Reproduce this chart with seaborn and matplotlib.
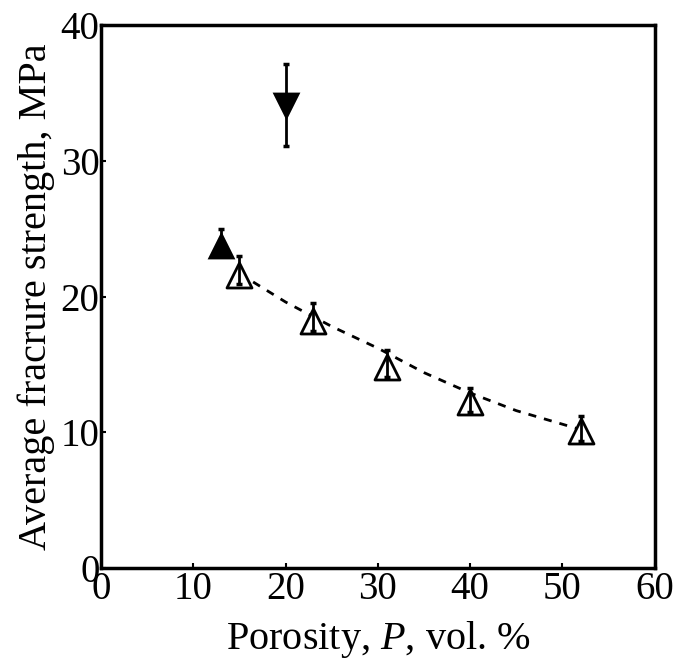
import matplotlib
matplotlib.use("Agg")
import matplotlib.pyplot as plt
import seaborn as sns
import numpy as np
import pandas as pd

# Open triangles (series with fit)
open_P = [15, 23, 31, 40, 52]
open_S = [21.6, 18.2, 14.8, 12.2, 10.1]
open_err_lo = [0.7, 0.7, 0.7, 0.7, 0.7]
open_err_hi = [1.4, 1.3, 1.3, 1.1, 1.1]

# Filled up-triangle
up_P = [13]
up_S = [23.8]
up_err_lo = [0.3]
up_err_hi = [1.2]

# Filled down-triangle
down_P = [20]
down_S = [34.0]
down_err_lo = [2.9]
down_err_hi = [3.1]

# Dashed fit curve
fit_P = [15, 20, 25, 30, 35, 40, 45, 50, 52]
fit_S = [21.7, 19.6, 17.8, 16.2, 14.4, 12.9, 11.6, 10.6, 10.2]

xticks = [0, 10, 20, 30, 40, 50, 60]
yticks = [0, 10, 20, 30, 40]

sns.set_theme(style="white")
plt.rcParams['font.family'] = ['Liberation Serif', 'DejaVu Serif']
plt.rcParams['mathtext.fontset'] = 'custom'
plt.rcParams['mathtext.it'] = 'Liberation Serif:italic'
plt.rcParams['mathtext.rm'] = 'Liberation Serif'

fig = plt.figure(figsize=(6.75, 6.7), dpi=100)
ax = fig.add_axes([0.1496, 0.152, 0.8204, 0.8107])

fit_df = pd.DataFrame({"P": fit_P, "S": fit_S})
sns.lineplot(data=fit_df, x="P", y="S", ax=ax, color="black", lw=2.0,
             dashes=False, zorder=1)
ax.lines[-1].set_dashes([2.9, 2.9])

ms = 20
open_df = pd.DataFrame({"P": open_P, "S": open_S})
sns.scatterplot(data=open_df, x="P", y="S", ax=ax, marker="^", s=(ms - 2) ** 2,
                facecolor="white", edgecolor="black", linewidth=2.0, zorder=2)
up_df = pd.DataFrame({"P": up_P, "S": up_S})
sns.scatterplot(data=up_df, x="P", y="S", ax=ax, marker="^", s=ms ** 2,
                color="black", edgecolor="black", linewidth=0, zorder=2)
down_df = pd.DataFrame({"P": down_P, "S": down_S})
sns.scatterplot(data=down_df, x="P", y="S", ax=ax, marker="v", s=ms ** 2,
                color="black", edgecolor="black", linewidth=0, zorder=2)

for P, S, lo, hi in [(open_P, open_S, open_err_lo, open_err_hi),
                     (up_P, up_S, up_err_lo, up_err_hi),
                     (down_P, down_S, down_err_lo, down_err_hi)]:
    ax.errorbar(P, S, yerr=[lo, hi], fmt="none", ecolor="black",
                elinewidth=2.0, capsize=2.5, capthick=2.5, zorder=3)

ax.set_xlim(0, 60)
ax.set_ylim(0, 40)
ax.set_xticks(xticks)
ax.set_yticks(yticks)
ax.tick_params(axis="both", direction="in", length=3.5, width=1.5,
               labelsize=28, colors="black", top=False, right=False,
               bottom=True, left=True)
ax.tick_params(axis="x", pad=2)
ax.tick_params(axis="y", pad=1)
for sp in ax.spines.values():
    sp.set_linewidth(2.5)
    sp.set_color("black")

ax.set_xlabel(r"Porosity, $\it{P}$, vol. %", fontsize=29, labelpad=8, color="black")
ax.set_ylabel("Average fracrure strength, MPa", fontsize=29, labelpad=4, color="black")

fig.savefig("out.png", dpi=100, facecolor="white")
